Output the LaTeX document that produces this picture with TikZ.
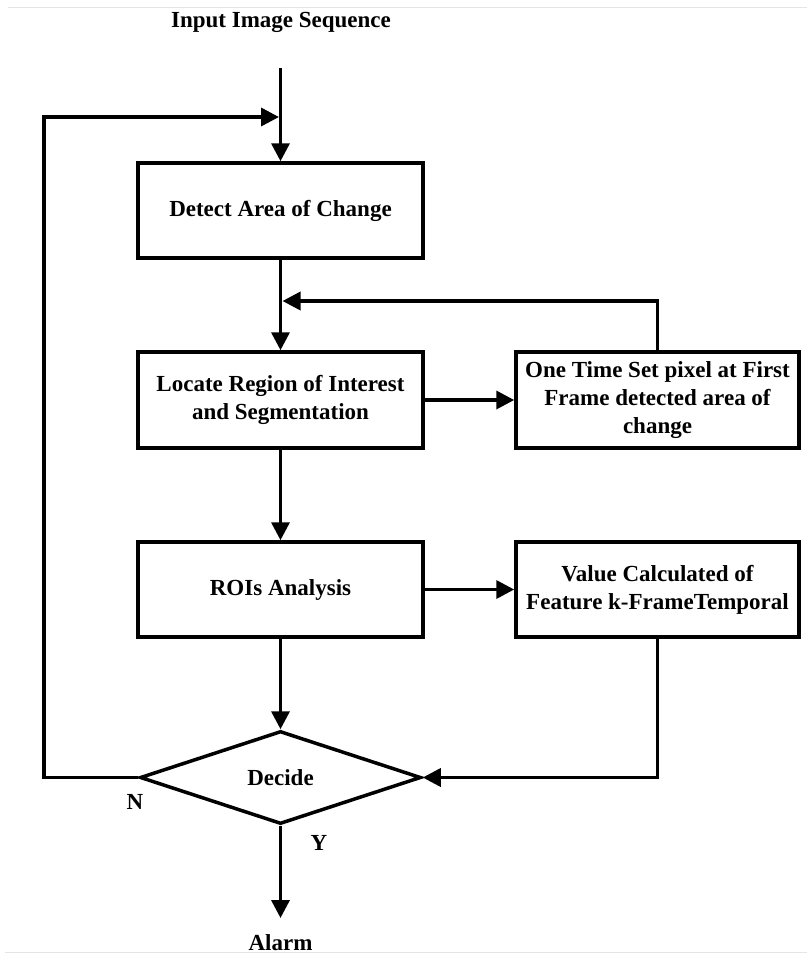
\documentclass[tikz,border=0pt]{standalone}
\usepackage{fontspec}
\setmainfont{Liberation Serif}
\usetikzlibrary{arrows.meta,shapes.geometric}

\begin{document}
\begin{tikzpicture}[x=1pt,y=-1pt,
  every node/.style={font=\bfseries\fontsize{23}{28}\selectfont, inner sep=0pt},
  box/.style={draw, line width=3.5pt, minimum width=285pt, minimum height=95pt, align=center},
  sidebox/.style={box, minimum width=283pt},
  decision/.style={draw, diamond, aspect=3, line width=3.5pt, minimum width=281pt, minimum height=93pt},
  arr/.style={line width=3.5pt, -{Triangle[length=18pt,width=18pt]}},
  link/.style={line width=3.5pt}
]
\useasboundingbox (0,0) rectangle (807,956);
\fill[white] (0,0) rectangle (807,956);

% faint rules along the top and bottom edges
\draw[black!10, line width=1pt] (8,7) -- (807,7);
\draw[black!10, line width=1pt] (5,952) -- (807,952);

% title and process steps
\node (title) at (281,22) {Input Image Sequence};
\node[box] (detect) at (280.5,210.5) {Detect Area of Change};
\node[box, minimum height=96pt] (locate) at (280.5,400) {Locate Region of Interest\\and Segmentation};
\node[sidebox, minimum height=96pt] (onetime) at (657.5,400) {One Time Set pixel at First\\Frame detected area of\\change};
\node[box] (rois) at (280.5,589.5) {ROIs Analysis};
\node[sidebox] (value) at (657.5,589.5) {Value Calculated of\\Feature k-FrameTemporal};
\node[decision] (decide) at (280.5,777.5) {Decide};
\node (alarm) at (280.5,943) {Alarm};
\node (nlab) at (135,802) {N};
\node (ylab) at (319,843) {Y};

% free ends and joints of the connectors
\coordinate (inStart) at (280.5,68);
\coordinate (loopJoin) at (279,117);
\coordinate (loopCorner) at (44,117);
\coordinate (fbJoin) at (282.5,301);
\coordinate (alarmEnd) at (280.5,918);

% main flow
\draw[arr] (inStart) -- (detect.north);
\draw[arr] (detect.south) -- (locate.north);
\draw[arr] (locate.south) -- (rois.north);
\draw[arr] (rois.south) -- (decide.north);
\draw[arr] (decide.south) -- (alarmEnd);

% side branches
\draw[arr] (locate.east) -- (onetime.west);
\draw[arr] (rois.east) -- (value.west);
\draw[arr] (onetime.north) |- (fbJoin);
\draw[arr] (value.south) |- (decide.east);

% "N" branch back to the input
\draw[arr] (decide.west) -| (loopCorner) -- (loopJoin);
\end{tikzpicture}
\end{document}
